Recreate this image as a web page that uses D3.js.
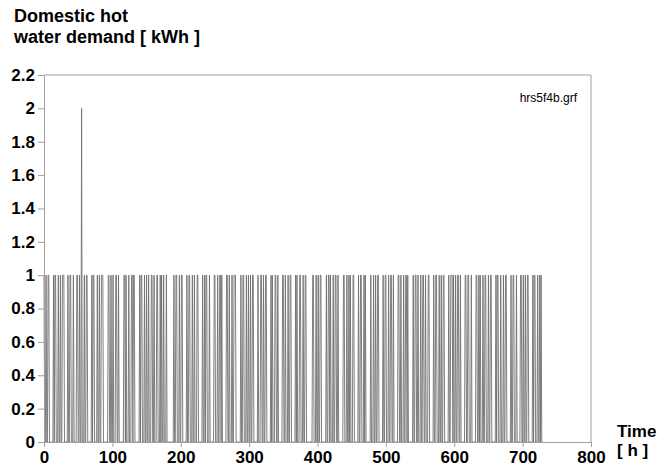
<!DOCTYPE html>
<html>
<head>
<meta charset="utf-8">
<script src="https://cdn.jsdelivr.net/npm/d3@7"></script>
<style>
  body { margin: 0; background: #fff; }
  text { font-family: Arial, "Liberation Sans", sans-serif; }
</style>
</head>
<body>
<div class="chart"></div>
<script>
// hourly demand, 50 hours per row (spaces every 10 h)
const demandRows = [
  "1001001100 0000101100 0100100111 0000010011 0001000011",
  "0010020001 0011000000 1011000010 0100111000 0000110010",
  "0100011001 0000000110 1000100011 0110000000 1011000100",
  "1001000110 0100011000 1010010001 0000000000 1001100010",
  "0110000001 0011000100 1000110000 0010010110 0010000001",
  "1000100110 1000000110 0100010011 1000000010 0110001001",
  "0010011000 0001000110 0100110000 0010100011 0010000001",
  "1001000100 1100000010 1000110001 0011000000 0001100010",
  "0100110000 0001001101 0001001100 1000000011 0001001010",
  "0011000000 1001100010 1000000010 0010010011 0000001001",
  "1000100110 0100000011 0010001001 1010000000 1001100100",
  "0100110010 0011000000 1001100010 0100110000 0010011101",
  "0010011001 0000001100 1100010000 0011001010 0010011000",
  "1001100000 0101100010 0010011000 0001001100 0100000110",
  "0100100110 0000010110 0010010100"
];
const yTicks = [0, 0.2, 0.4, 0.6, 0.8, 1, 1.2, 1.4, 1.6, 1.8, 2, 2.2];
const xTicks = [0, 100, 200, 300, 400, 500, 600, 700, 800];

const demand = demandRows.join("").replace(/ /g, "").split("")
  .map((c, i) => ({ h: i, v: +c }));

const width = 660, height = 472;
const svg = d3.select(".chart").append("svg")
  .attr("width", width)
  .attr("height", height);

const x = d3.scaleLinear().domain([0, 800]).range([44, 591]);
const y = d3.scaleLinear().domain([0, 2.2]).range([442, 75]);

// frame (top + right)
svg.append("path")
  .attr("d", `M${x(0)},${y(2.2)}H${x(800)}V${y(0)}`)
  .attr("fill", "none")
  .attr("stroke", "#a0a0a0");

const line = d3.line().x(d => x(d.h)).y(d => y(d.v));
svg.append("path")
  .datum(demand)
  .attr("d", line)
  .attr("fill", "none")
  .attr("stroke", "#707070")
  .attr("stroke-width", 0.9);

const yAxis = svg.append("g")
  .attr("transform", `translate(${x(0)},0)`)
  .call(d3.axisLeft(y).tickValues(yTicks).tickSize(6).tickPadding(3)
    .tickFormat(d => d3.format("~g")(d)));
const xAxis = svg.append("g")
  .attr("transform", `translate(0,${y(0)})`)
  .call(d3.axisBottom(x).tickValues(xTicks).tickSize(5).tickPadding(4));

[yAxis, xAxis].forEach(g => {
  g.select(".domain").attr("stroke", "#a0a0a0");
  g.selectAll(".tick line").attr("stroke", "#a0a0a0");
  g.selectAll(".tick text")
    .attr("fill", "#000")
    .attr("font-size", "17px")
    .attr("font-weight", "bold")
    .style("font-family", "Arial, 'Liberation Sans', sans-serif");
});

svg.append("text").attr("x", 14).attr("y", 22)
  .attr("font-size", "18px").attr("font-weight", "bold")
  .text("Domestic hot");
svg.append("text").attr("x", 14).attr("y", 43)
  .attr("font-size", "18px").attr("font-weight", "bold")
  .text("water demand [ kWh ]");

svg.append("text").attr("x", 617).attr("y", 437)
  .attr("font-size", "17px").attr("font-weight", "bold")
  .text("Time");
svg.append("text").attr("x", 617).attr("y", 456)
  .attr("font-size", "17px").attr("font-weight", "bold")
  .text("[ h ]");

svg.append("text").attr("x", 577).attr("y", 102)
  .attr("text-anchor", "end")
  .attr("font-size", "12px")
  .text("hrs5f4b.grf");
</script>
</body>
</html>
